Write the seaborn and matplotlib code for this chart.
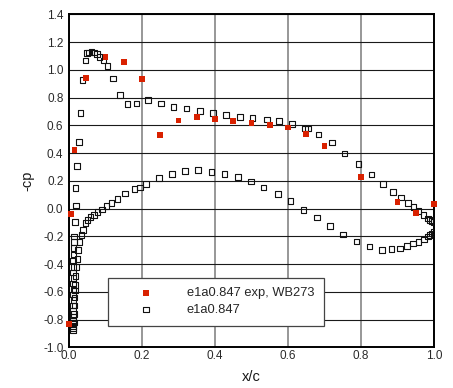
import matplotlib
matplotlib.use("Agg")
import matplotlib.pyplot as plt
import seaborn as sns
import pandas as pd
from matplotlib.ticker import MultipleLocator, FormatStrFormatter

# Experimental data (e1a0.847 exp, WB273)
exp_x = [0.0, 0.005, 0.015, 0.047, 0.10, 0.15, 0.20, 0.25, 0.30, 0.35, 0.40,
         0.45, 0.50, 0.55, 0.60, 0.65, 0.70, 0.80, 0.90, 0.95, 1.0]
exp_y = [-0.83, -0.04, 0.42, 0.94, 1.09, 1.055, 0.935, 0.53, 0.635, 0.66, 0.645,
         0.63, 0.615, 0.60, 0.585, 0.535, 0.45, 0.23, 0.045, -0.03, 0.035]

# Computed data (e1a0.847), upper surface
upper_x = [0.011, 0.011, 0.011, 0.011, 0.011, 0.011, 0.011, 0.011, 0.012, 0.011,
           0.012, 0.011, 0.012, 0.011, 0.012, 0.011, 0.012, 0.012, 0.013, 0.013,
           0.016, 0.019, 0.018, 0.022, 0.027, 0.032, 0.037, 0.045, 0.049, 0.055,
           0.062, 0.069, 0.077, 0.083, 0.094, 0.106, 0.120, 0.139, 0.160, 0.185,
           0.216, 0.252, 0.286, 0.322, 0.359, 0.395, 0.430, 0.468, 0.503, 0.542,
           0.576, 0.611, 0.646, 0.655, 0.684, 0.721, 0.755, 0.793, 0.829, 0.860,
           0.887, 0.910, 0.929, 0.944, 0.958, 0.971, 0.983, 0.989, 0.995, 1.0]
upper_y = [-0.875, -0.86, -0.845, -0.83, -0.81, -0.78, -0.74, -0.70, -0.66, -0.62,
           -0.585, -0.54, -0.50, -0.46, -0.42, -0.375, -0.33, -0.285, -0.24, -0.20,
           -0.097, 0.021, 0.150, 0.307, 0.480, 0.690, 0.926, 1.068, 1.120, 1.126,
           1.130, 1.124, 1.112, 1.094, 1.066, 1.027, 0.937, 0.818, 0.754, 0.758,
           0.782, 0.758, 0.732, 0.720, 0.703, 0.689, 0.673, 0.660, 0.653, 0.643,
           0.631, 0.609, 0.578, 0.576, 0.535, 0.475, 0.398, 0.321, 0.244, 0.177,
           0.121, 0.080, 0.040, 0.012, -0.018, -0.045, -0.072, -0.082, -0.088, -0.095]

# Computed data, lower surface
lower_x = [0.014, 0.014, 0.015, 0.015, 0.016, 0.017, 0.018, 0.020, 0.023, 0.025,
           0.029, 0.034, 0.038, 0.045, 0.051, 0.059, 0.068, 0.078, 0.091, 0.103,
           0.117, 0.133, 0.154, 0.180, 0.195, 0.211, 0.247, 0.282, 0.318, 0.354,
           0.390, 0.426, 0.463, 0.499, 0.533, 0.572, 0.607, 0.642, 0.679, 0.715,
           0.750, 0.788, 0.823, 0.857, 0.884, 0.907, 0.926, 0.943, 0.957, 0.973,
           0.983, 0.988, 0.994, 1.0]
lower_y = [-0.82, -0.76, -0.70, -0.64, -0.59, -0.549, -0.486, -0.423, -0.364, -0.299,
           -0.243, -0.191, -0.155, -0.106, -0.083, -0.061, -0.045, -0.023, -0.006, 0.018,
           0.038, 0.067, 0.107, 0.141, 0.153, 0.177, 0.220, 0.251, 0.271, 0.278,
           0.263, 0.249, 0.227, 0.194, 0.153, 0.103, 0.054, -0.010, -0.063, -0.124,
           -0.186, -0.239, -0.275, -0.299, -0.292, -0.287, -0.270, -0.253, -0.241, -0.222,
           -0.203, -0.190, -0.179, -0.167]

label_exp = "e1a0.847 exp, WB273"
label_cfd = "e1a0.847"
x_ticks = [0.0, 0.2, 0.4, 0.6, 0.8, 1.0]
y_ticks = [-1.0, -0.8, -0.6, -0.4, -0.2, 0.0, 0.2, 0.4, 0.6, 0.8, 1.0, 1.2, 1.4]

cfd = pd.DataFrame({"x": upper_x + lower_x, "y": upper_y + lower_y})
exp = pd.DataFrame({"x": exp_x, "y": exp_y})

sns.set_theme(style="white")
plt.rcParams['font.family'] = ['Liberation Sans', 'DejaVu Sans']
plt.rcParams['axes.unicode_minus'] = False

W, H = 453, 388
fig = plt.figure(figsize=(W / 100, H / 100), dpi=100)
ax = fig.add_axes([69 / W, 1 - 347.3 / H, 365 / W, 333 / H])

sns.scatterplot(data=cfd, x="x", y="y", marker="s", s=16, facecolor="none",
                edgecolor="#111111", linewidth=0.8, label=label_cfd, ax=ax, zorder=3)
sns.scatterplot(data=exp, x="x", y="y", marker="s", s=17, color="#d92100",
                edgecolor="none", linewidth=0, label=label_exp, ax=ax, zorder=4,
                clip_on=False)

ax.set_xlim(0, 1.0)
ax.set_ylim(-1.0, 1.4)
ax.set_xticks(x_ticks)
ax.set_yticks(y_ticks)
ax.xaxis.set_major_formatter(FormatStrFormatter("%.1f"))
ax.yaxis.set_major_formatter(FormatStrFormatter("%.1f"))
ax.xaxis.set_minor_locator(MultipleLocator(0.04))
ax.yaxis.set_minor_locator(MultipleLocator(0.04))
ax.tick_params(axis="both", which="both", direction="in", colors="#111111",
               labelcolor="#2a2a2a", labelsize=8.5, top=False, right=False)
ax.tick_params(axis="both", which="major", length=5, width=0.8)
ax.tick_params(axis="both", which="minor", length=3.5, width=0.7)
ax.tick_params(axis="x", which="major", pad=2)
ax.tick_params(axis="y", which="major", pad=4)

ax.set_axisbelow(True)
ax.grid(axis="y", which="major", color="#1a1a1a", linewidth=0.8)
ax.grid(axis="x", which="major", color="#7a7a7a", linewidth=1.1)

for sp in ax.spines.values():
    sp.set_visible(True)
    sp.set_color("#000000")
    sp.set_linewidth(1.4)

ax.set_xlabel("x/c", fontsize=10.5, color="#1a1a1a")
ax.set_ylabel("-cp", fontsize=10.5, color="#1a1a1a")
ax.xaxis.set_label_coords(0.5, -0.068)
ax.yaxis.set_label_coords(-0.095, 0.5)

h, l = ax.get_legend_handles_labels()
leg = ax.legend([h[1], h[0]], [l[1], l[0]], loc="lower left",
                bbox_to_anchor=(0.107, 0.065, 0.592, 0.144), mode="expand",
                borderaxespad=0, borderpad=0.74, handlelength=4.4,
                handletextpad=0.95, labelspacing=0.36, fontsize=9.3,
                frameon=True, fancybox=False, framealpha=1, scatterpoints=1,
                edgecolor="#444444", facecolor="white")
leg.get_frame().set_linewidth(0.9)
leg.set_zorder(5)

fig.savefig("out.png", dpi=100)
